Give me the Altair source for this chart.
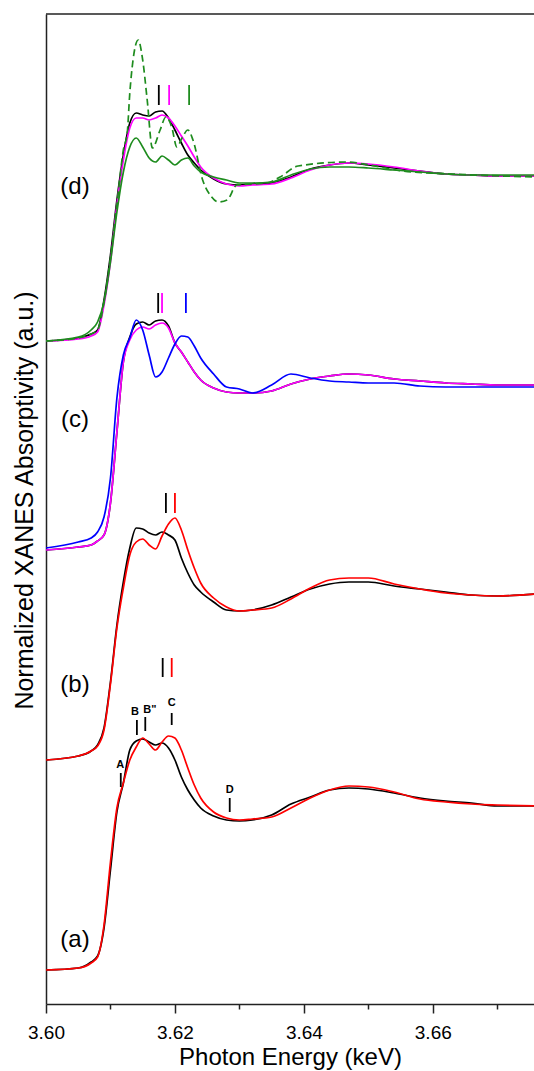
import altair as alt
import pandas as pd

# ---------------- data ----------------
E_GRID = [3.600, 3.605, 3.607, 3.608, 3.609, 3.610, 3.611, 3.612, 3.613, 3.614,
          3.615, 3.616, 3.617, 3.618, 3.619, 3.620, 3.621, 3.622, 3.623, 3.624,
          3.626, 3.628, 3.630, 3.632, 3.635, 3.638, 3.641, 3.644, 3.647, 3.650,
          3.654, 3.658, 3.662, 3.666, 3.670, 3.676]

A_BLACK = [0.34, 0.36, 0.42, 0.48, 0.76, 1.34, 1.92, 2.21, 2.54, 2.63,
           2.65, 2.62, 2.59, 2.61, 2.56, 2.44, 2.27, 2.14, 2.04, 1.96,
           1.88, 1.84, 1.83, 1.84, 1.89, 2.00, 2.07, 2.14, 2.16, 2.15,
           2.11, 2.06, 2.03, 2.01, 1.98, 1.98]
A_RED = [0.34, 0.36, 0.41, 0.47, 0.79, 1.42, 1.96, 2.21, 2.44, 2.57,
         2.66, 2.60, 2.54, 2.62, 2.68, 2.66, 2.54, 2.36, 2.19, 2.06,
         1.92, 1.86, 1.84, 1.85, 1.87, 1.96, 2.06, 2.14, 2.18, 2.17,
         2.12, 2.05, 2.02, 2.00, 1.99, 1.98]

B_BLACK = [2.44, 2.48, 2.53, 2.59, 2.76, 3.22, 3.79, 4.22, 4.56, 4.76,
           4.75, 4.71, 4.69, 4.72, 4.69, 4.64, 4.46, 4.31, 4.19, 4.12,
           4.02, 3.94, 3.93, 3.94, 3.99, 4.07, 4.15, 4.20, 4.22, 4.22,
           4.18, 4.15, 4.12, 4.09, 4.08, 4.10]
B_RED = [2.44, 2.48, 2.53, 2.58, 2.74, 3.20, 3.76, 4.16, 4.49, 4.62,
         4.65, 4.59, 4.55, 4.68, 4.80, 4.86, 4.74, 4.54, 4.36, 4.21,
         4.06, 3.97, 3.93, 3.94, 3.96, 4.05, 4.16, 4.24, 4.26, 4.26,
         4.20, 4.15, 4.11, 4.09, 4.08, 4.10]

C_BLACK = [4.54, 4.57, 4.59, 4.63, 4.69, 5.01, 5.72, 6.42, 6.67, 6.80,
           6.82, 6.79, 6.83, 6.84, 6.78, 6.61, 6.52, 6.42, 6.32, 6.24,
           6.16, 6.12, 6.11, 6.11, 6.13, 6.20, 6.25, 6.28, 6.30, 6.29,
           6.25, 6.23, 6.21, 6.20, 6.19, 6.19]
C_MAGENTA = [4.54, 4.57, 4.59, 4.63, 4.69, 5.01, 5.72, 6.42, 6.64, 6.74,
             6.77, 6.75, 6.79, 6.81, 6.76, 6.61, 6.52, 6.42, 6.32, 6.24,
             6.16, 6.12, 6.11, 6.11, 6.13, 6.20, 6.25, 6.28, 6.30, 6.29,
             6.25, 6.23, 6.21, 6.20, 6.19, 6.19]
C_BLUE = [4.56, 4.62, 4.66, 4.72, 4.87, 5.26, 6.06, 6.49, 6.66, 6.84,
          6.74, 6.49, 6.27, 6.32, 6.46, 6.60, 6.68, 6.67, 6.58, 6.46,
          6.30, 6.17, 6.15, 6.11, 6.19, 6.30, 6.26, 6.23, 6.22, 6.21,
          6.21, 6.18, 6.17, 6.17, 6.17, 6.17]

D_BLACK = [6.63, 6.66, 6.70, 6.74, 7.04, 7.49, 8.04, 8.49, 8.81, 8.91,
           8.89, 8.88, 8.92, 8.93, 8.86, 8.74, 8.61, 8.49, 8.41, 8.34,
           8.25, 8.20, 8.19, 8.20, 8.21, 8.27, 8.35, 8.39, 8.41, 8.39,
           8.36, 8.33, 8.30, 8.29, 8.28, 8.28]
D_MAGENTA = [6.63, 6.65, 6.68, 6.72, 6.99, 7.42, 7.99, 8.44, 8.76, 8.86,
             8.86, 8.84, 8.86, 8.89, 8.86, 8.78, 8.68, 8.58, 8.47, 8.37,
             8.26, 8.20, 8.18, 8.19, 8.20, 8.26, 8.34, 8.39, 8.41, 8.40,
             8.37, 8.33, 8.30, 8.29, 8.28, 8.28]
D_GREEN = [6.63, 6.67, 6.74, 6.82, 7.02, 7.42, 7.92, 8.32, 8.57, 8.66,
           8.57, 8.46, 8.42, 8.48, 8.44, 8.39, 8.44, 8.46, 8.38, 8.32,
           8.27, 8.24, 8.21, 8.21, 8.22, 8.29, 8.35, 8.37, 8.37, 8.36,
           8.34, 8.32, 8.30, 8.29, 8.29, 8.29]

E_DASH = [3.600, 3.605, 3.607, 3.608, 3.609, 3.610, 3.611, 3.612, 3.6126, 3.6130,
          3.6135, 3.6143, 3.6150, 3.6157, 3.6165, 3.6177, 3.6186, 3.6195, 3.6203, 3.6211,
          3.6220, 3.6228, 3.6243, 3.6257, 3.6267, 3.6281, 3.6296, 3.6343, 3.6363, 3.6391,
          3.6467, 3.6502, 3.6554, 3.6631, 3.6757]
D_GREEN_DASH = [6.63, 6.66, 6.70, 6.74, 7.02, 7.46, 7.99, 8.54, 8.71, 9.11,
                9.44, 9.64, 9.44, 9.04, 8.56, 8.74, 8.87, 8.77, 8.57, 8.66,
                8.74, 8.64, 8.24, 8.07, 8.02, 8.04, 8.19, 8.21, 8.27, 8.38,
                8.42, 8.39, 8.33, 8.30, 8.27]

# peak position markers (short coloured bars)
PEAK_E = [3.6175, 3.6191, 3.6222, 3.6174, 3.6180, 3.6217, 3.6186, 3.6200, 3.6181, 3.6195]
PEAK_TOP = [9.19, 9.19, 9.19, 7.11, 7.11, 7.11, 5.11, 5.11, 3.46, 3.46]
PEAK_BOT = [8.99, 8.99, 8.99, 6.91, 6.91, 6.91, 4.91, 4.91, 3.27, 3.27]
PEAK_COLOR = ["#000000", "#FF00FF", "#1E8C1E", "#000000", "#FF00FF", "#0000FF",
              "#000000", "#FF0000", "#000000", "#FF0000"]

# feature markers on spectrum (a)
FEAT_LABEL = ["A", "B", 'B"', "C", "D"]
FEAT_E = [3.6116, 3.6141, 3.6154, 3.6195, 3.6285]
FEAT_TOP = [2.31, 2.84, 2.87, 2.91, 2.06]
FEAT_BOT = [2.17, 2.69, 2.73, 2.79, 1.92]
FEAT_TEXT_E = [3.6115, 3.6138, 3.6161, 3.6195, 3.6285]
FEAT_TEXT_Y = [2.39, 2.92, 2.94, 3.01, 2.14]

PANEL_LABEL = ["(d)", "(c)", "(b)", "(a)"]
PANEL_E = [3.6045, 3.6045, 3.6045, 3.6045]
PANEL_Y = [8.17, 5.84, 3.19, 0.64]

X_TICKS = [3.60, 3.61, 3.62, 3.63, 3.64, 3.65, 3.66, 3.67]

# ---------------- chart ----------------
FONT = "Liberation Sans"
W, H = 488, 990

x_enc = alt.X(
    "E:Q",
    scale=alt.Scale(domain=[3.60, 3.6757], nice=False, zero=False),
    axis=alt.Axis(
        values=X_TICKS,
        labelExpr="round(datum.value*100) % 2 == 0 ? format(datum.value, '.2f') : ''",
        tickSize={"condition": {"test": "round(datum.value*100) % 2 == 0", "value": 9}, "value": 5},
        title="Photon Energy (keV)",
        labelFont=FONT, titleFont=FONT,
        labelFontSize=19, titleFontSize=24,
        labelFontWeight="normal", titleFontWeight="normal",
        labelColor="black", titleColor="black",
        labelPadding=10, titlePadding=3,
        domainColor="#222222", domainWidth=1.5,
        tickColor="#222222", tickWidth=1.5,
        grid=False, labelFlush=False,
    ),
)
y_scale = alt.Scale(domain=[0, 9.90], nice=False, zero=False)
y_enc = alt.Y(
    "v:Q",
    scale=y_scale,
    axis=alt.Axis(
        title="Normalized XANES Absorptivity (a.u.)",
        labels=False, ticks=False, grid=False,
        titleFont=FONT, titleFontSize=25, titleFontWeight="normal",
        titleColor="black", titlePadding=9, titleY=486,
        domainColor="#222222", domainWidth=1.5,
    ),
)

curves = [
    (E_GRID, A_BLACK, "#000000", False),
    (E_GRID, A_RED, "#FF0000", False),
    (E_GRID, B_BLACK, "#000000", False),
    (E_GRID, B_RED, "#FF0000", False),
    (E_GRID, C_BLACK, "#000000", False),
    (E_GRID, C_MAGENTA, "#FF00FF", False),
    (E_GRID, C_BLUE, "#0000FF", False),
    (E_GRID, D_BLACK, "#000000", False),
    (E_GRID, D_MAGENTA, "#FF00FF", False),
    (E_GRID, D_GREEN, "#1E8C1E", False),
    (E_DASH, D_GREEN_DASH, "#1E8C1E", True),
]

layers = []
for e, v, col, dashed in curves:
    df = pd.DataFrame({"E": e, "v": v})
    kw = dict(color=col, strokeWidth=1.7, interpolate="monotone", clip=True)
    if dashed:
        kw["strokeDash"] = [7, 4]
    layers.append(alt.Chart(df).mark_line(**kw).encode(x=x_enc, y=y_enc))

peaks = pd.DataFrame({"E": PEAK_E, "v": PEAK_TOP, "v2": PEAK_BOT, "c": PEAK_COLOR})
layers.append(
    alt.Chart(peaks).mark_rule(strokeWidth=1.8).encode(
        x=x_enc, y=y_enc, y2="v2:Q", color=alt.Color("c:N", scale=None)
    )
)

feats = pd.DataFrame({"E": FEAT_E, "v": FEAT_TOP, "v2": FEAT_BOT})
layers.append(
    alt.Chart(feats).mark_rule(strokeWidth=1.8, color="black").encode(x=x_enc, y=y_enc, y2="v2:Q")
)

feat_txt = pd.DataFrame({"E": FEAT_TEXT_E, "v": FEAT_TEXT_Y, "t": FEAT_LABEL})
layers.append(
    alt.Chart(feat_txt).mark_text(font=FONT, fontSize=11, fontWeight="bold", color="black",
                                  align="center", baseline="middle").encode(x=x_enc, y=y_enc, text="t:N")
)

panel_txt = pd.DataFrame({"E": PANEL_E, "v": PANEL_Y, "t": PANEL_LABEL})
layers.append(
    alt.Chart(panel_txt).mark_text(font=FONT, fontSize=24, color="black",
                                   align="center", baseline="middle").encode(x=x_enc, y=y_enc, text="t:N")
)

frame_df = pd.DataFrame({"k": [0]})
layers.append(
    alt.Chart(frame_df).mark_rule(color="#222222", strokeWidth=1.5).encode(
        x=alt.value(0), x2=alt.value(W), y=alt.value(0)
    )
)

chart = (
    alt.layer(*layers)
    .properties(
        width=W, height=H,
        padding={"left": 46, "top": 14, "right": 0, "bottom": 67},
        autosize=alt.AutoSizeParams(type="none"),
        background="white",
    )
    .configure_view(strokeWidth=0)
)

chart.save("out.html", embed_options={"renderer": "svg", "actions": False})
